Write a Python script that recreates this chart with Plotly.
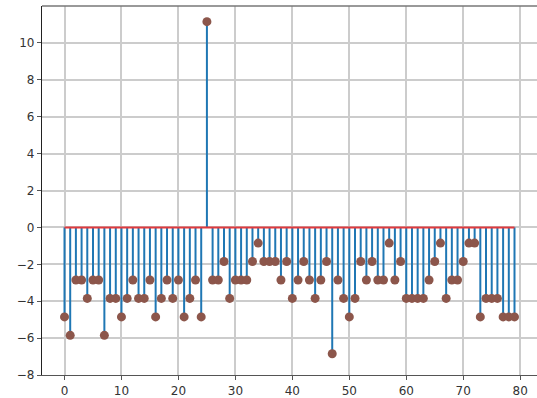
import plotly.graph_objects as go

# Residual values per sample index
index = list(range(80))
values = [
    -4.85, -5.85, -2.85, -2.85, -3.85, -2.85, -2.85, -5.85, -3.85, -3.85,
    -4.85, -3.85, -2.85, -3.85, -3.85, -2.85, -4.85, -3.85, -2.85, -3.85,
    -2.85, -4.85, -3.85, -2.85, -4.85, 11.15, -2.85, -2.85, -1.85, -3.85,
    -2.85, -2.85, -2.85, -1.85, -0.85, -1.85, -1.85, -1.85, -2.85, -1.85,
    -3.85, -2.85, -1.85, -2.85, -3.85, -2.85, -1.85, -6.85, -2.85, -3.85,
    -4.85, -3.85, -1.85, -2.85, -1.85, -2.85, -2.85, -0.85, -2.85, -1.85,
    -3.85, -3.85, -3.85, -3.85, -2.85, -1.85, -0.85, -3.85, -2.85, -2.85,
    -1.85, -0.85, -0.85, -4.85, -3.85, -3.85, -3.85, -4.85, -4.85, -4.85,
]
x_ticks = [0, 10, 20, 30, 40, 50, 60, 70, 80]
y_ticks = [-8, -6, -4, -2, 0, 2, 4, 6, 8, 10]

# Stem segments from the baseline to each value
stem_x, stem_y = [], []
for i, v in zip(index, values):
    stem_x += [i, i, None]
    stem_y += [0, v, None]

fig = go.Figure()
fig.add_trace(go.Scatter(
    x=stem_x, y=stem_y, mode="lines",
    line=dict(color="#1f77b4", width=2),
    hoverinfo="skip", showlegend=False,
))
fig.add_trace(go.Scatter(
    x=index, y=values, mode="markers",
    marker=dict(color="#8c564b", size=9, line=dict(width=0)),
    showlegend=False,
))
fig.add_trace(go.Scatter(
    x=[index[0], index[-1]], y=[0, 0], mode="lines",
    line=dict(color="#e03a3e", width=2),
    hoverinfo="skip", showlegend=False,
))

font = dict(family="DejaVu Sans", size=12, color="#333333")
fig.update_layout(
    width=537, height=398,
    margin=dict(l=42, r=0, t=6, b=23),
    paper_bgcolor="white", plot_bgcolor="white",
    font=font,
    xaxis=dict(
        range=[-3.95, 82.95], tickvals=x_ticks,
        showgrid=True, gridcolor="#cccccc", gridwidth=1.5,
        zeroline=False, showline=True, linecolor="#555555", linewidth=1.2,
        ticks="outside", ticklen=4, tickcolor="#555555", tickfont=font,
    ),
    yaxis=dict(
        range=[-8, 12], tickvals=y_ticks,
        showgrid=True, gridcolor="#cccccc", gridwidth=1.5,
        zeroline=False, showline=True, linecolor="#222222", linewidth=1.2,
        ticks="outside", ticklen=4, tickcolor="#555555", tickfont=font,
    ),
    shapes=[dict(
        type="line", xref="paper", yref="paper",
        x0=0, x1=1, y0=1, y1=1,
        line=dict(color="#777777", width=1.5),
    )],
)

fig.write_html("out.html")
